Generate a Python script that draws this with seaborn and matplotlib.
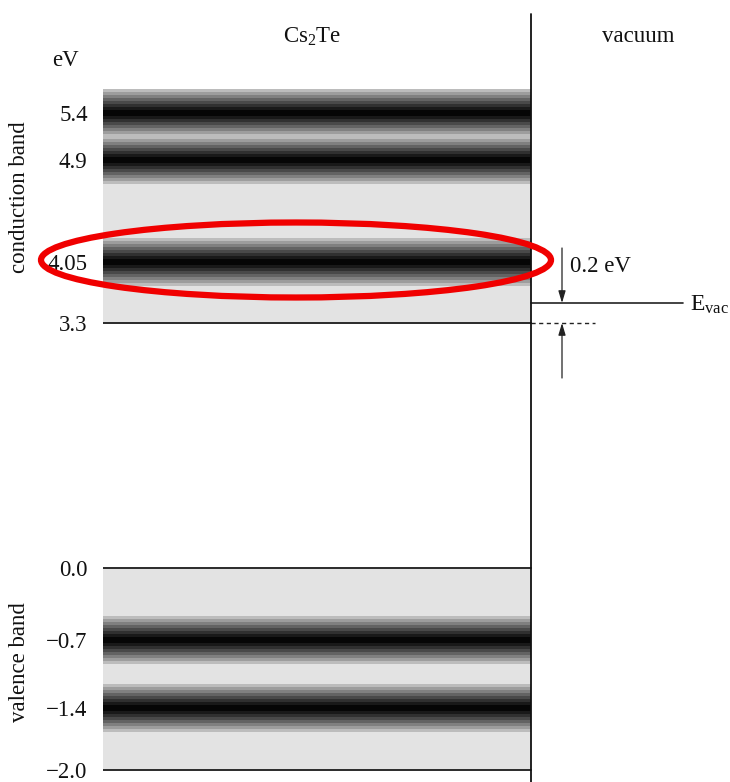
import numpy as np
import pandas as pd
import matplotlib
matplotlib.use("Agg")
import matplotlib.pyplot as plt
import seaborn as sns
from matplotlib.patches import Ellipse
from matplotlib.transforms import IdentityTransform

# ---------------- data ----------------
tick_values = [5.4, 4.9, 4.05, 3.3, 0.0, -0.7, -1.4, -2.0]
tick_labels = ["5.4", "4.9", "4.05", "3.3", "0.0", "\u22120.7", "\u22121.4", "\u22122.0"]
conduction_levels = [5.4, 4.9, 4.05]
valence_levels = [-0.7, -1.4]
cb_min = 3.3
vb_max = 0.0
vb_min = -2.0
e_vac = 3.5
highlight_level = 4.05
gap_label = "0.2 eV"
region_labels = ["Cs$_2$Te", "vacuum"]
band_labels = ["conduction band", "valence band"]

# ---------------- layout (schematic, piecewise energy axis) ----------------
W, H = 730, 782
knot_ev = np.array([-2.12, -2.0, -1.4, -0.7, 0.0, 3.3, 3.5, 4.05, 4.9, 5.4, 6.6])
knot_row = np.array([782, 770, 708, 640, 568, 323, 303, 262, 160, 113, 0])
knot_h = H - knot_row


def fwd(v):
    return np.interp(v, knot_ev, knot_h)


def inv(h):
    return np.interp(h, knot_h, knot_ev)


def row(r):
    """pixel row (from top) -> energy"""
    return float(inv(H - r))


sns.set_theme(style="white")
plt.rcParams["font.family"] = ["Liberation Serif", "DejaVu Serif"]
plt.rcParams["mathtext.fontset"] = "custom"
plt.rcParams["mathtext.rm"] = "Liberation Serif"
plt.rcParams["mathtext.it"] = "Liberation Serif:italic"

FS = 16.5
fig = plt.figure(figsize=(W / 100, H / 100), dpi=100)
x0 = 103
ax = fig.add_axes([x0 / W, 0, 1 - x0 / W, 1])
ax.set_yscale("function", functions=(fwd, inv))
ax.set_xlim(x0, W)
ax.set_ylim(knot_ev[0], knot_ev[-1])
for s in ax.spines.values():
    s.set_visible(False)

xa, xb = 103, 531
bg = 0.89
half = 24.0


def band(center):
    hc = float(fwd(center))
    n = 16
    edges = np.linspace(hc - half, hc + half, n + 1)
    for i in range(n):
        mid = 0.5 * (edges[i] + edges[i + 1])
        d = abs(mid - hc) / half
        g = 0.80 * d ** 1.25
        ax.fill_between([xa, xb], inv(edges[i]), inv(edges[i + 1] + 0.3),
                        color=(g, g, g), lw=0, zorder=2)


# gray band regions
top_cb = float(inv(fwd(max(conduction_levels)) + half))
ax.fill_between([xa, xb], cb_min, top_cb, color=(bg, bg, bg), lw=0, zorder=1)
ax.fill_between([xa, xb], vb_min, vb_max, color=(bg, bg, bg), lw=0, zorder=1)
for c in conduction_levels + valence_levels:
    band(c)

# level lines
lines = pd.DataFrame({
    "x": [xa, xb] * 3,
    "E": [cb_min, cb_min, vb_max, vb_max, vb_min, vb_min],
    "lvl": ["cb", "cb", "vb", "vb", "bot", "bot"],
})
sns.lineplot(data=lines, x="x", y="E", units="lvl", estimator=None,
             color="#2a2a2a", lw=1.4, ax=ax, zorder=4, legend=False)

ax.set_xlabel("")
ax.set_ylabel("")
ax.set_xticks([])
ax.set_yticks(tick_values)
ax.set_yticklabels(tick_labels)
ax.tick_params(axis="y", length=0, pad=11, labelsize=FS, colors="#111111")

# interface line
ax.plot([xb, xb], [vb_min - 0.2, row(14)], color="#111111", lw=1.3, zorder=5,
        clip_on=False)

# vacuum level and dashed extension
ax.plot([xb, 683], [e_vac, e_vac], color="#222222", lw=1.2, zorder=4)
ax.plot([xb, 595], [cb_min, cb_min], color="#222222", lw=1.0, ls=(0, (3, 2.5)), zorder=4)

# arrows
ap = dict(arrowstyle="-|>,head_length=0.6,head_width=0.18", color="#222222", lw=0.9,
          shrinkA=0, shrinkB=0)
ax.annotate("", xy=(562, e_vac), xytext=(562, row(248)), arrowprops=ap)
ax.annotate("", xy=(562, cb_min), xytext=(562, row(378)), arrowprops=ap)
ax.text(570, row(267), gap_label, ha="left", va="center", fontsize=FS, color="#111111")
ax.text(690, row(305), "E$_{\\mathrm{vac}}$", ha="left", va="center", fontsize=FS + 0.5,
        color="#111111", clip_on=False)

# headers
ax.text(312, row(37), region_labels[0], ha="center", va="center", fontsize=FS, color="#111111")
ax.text(638, row(37), region_labels[1], ha="center", va="center", fontsize=FS, color="#111111")
ax.text(65, row(61), "eV", ha="center", va="center", fontsize=FS, color="#111111", clip_on=False)
ax.text(20, row(197), band_labels[0], ha="center", va="center", rotation=90, fontsize=FS,
        color="#111111", clip_on=False)
ax.text(20, row(662), band_labels[1], ha="center", va="center", rotation=90, fontsize=FS,
        color="#111111", clip_on=False)

# highlight ellipse around the 4.05 eV level
cx, cy = ax.transData.transform((296, highlight_level))
ell = Ellipse((cx, cy + 2), width=510, height=75, transform=IdentityTransform(),
              fill=False, edgecolor="#f00000", lw=4.5, zorder=10, clip_on=False)
fig.patches.append(ell)
ell.set_figure(fig)

fig.savefig("out.png", dpi=100)
